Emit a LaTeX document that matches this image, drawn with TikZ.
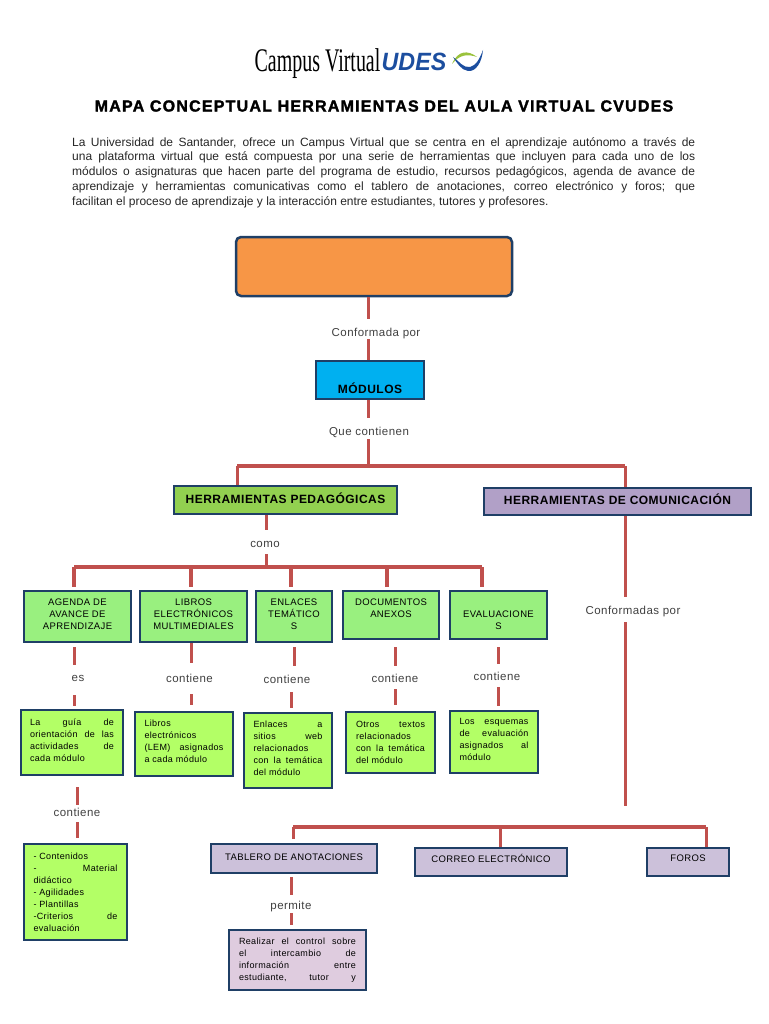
\documentclass[tikz,border=0pt]{standalone}
\usepackage{fontspec}
\setmainfont{Liberation Sans}
\newfontfamily\spacedfont[LetterSpace=4]{Liberation Sans}
\newfontfamily\logofont{Liberation Serif}
\definecolor{linkred}{HTML}{C0504D}
\definecolor{boxblue}{HTML}{1F3F66}
\definecolor{toolgreen}{HTML}{99F07F}
\definecolor{notegreen}{HTML}{B3FF66}
\definecolor{lilac}{HTML}{CCC1DA}
\definecolor{controlpink}{HTML}{DFCCDF}
\definecolor{aulaorange}{HTML}{F79646}
\definecolor{modulecyan}{HTML}{00B0F0}
\definecolor{pedagreen}{HTML}{92D050}
\definecolor{compurple}{HTML}{B1A0C7}
\definecolor{udesblue}{HTML}{1C4E9F}
\definecolor{swooshgreen}{HTML}{9AC23C}
\newcommand{\lift}[1][-7pt]{\\[#1]\mbox{}}
\tikzset{
  link/.style={draw=linkred, line width=3pt},
  bus/.style={draw=linkred, line width=3.5pt},
  verb/.style={font=\spacedfont\fontsize{11.5}{14}\selectfont, text=black!75, inner sep=0pt, minimum height=20pt},
  frame/.style={draw=boxblue, line width=2.5pt, inner sep=0pt},
  toolbox/.style={frame, fill=toolgreen, align=center, font=\spacedfont\fontsize{9.5}{12}\selectfont},
  notebox/.style={frame, fill=notegreen, align=justify, font=\spacedfont\fontsize{9}{12}\selectfont},
  lilacbox/.style={frame, fill=lilac, align=center, font=\spacedfont\fontsize{9.5}{12}\selectfont},
  headbox/.style={frame, font=\spacedfont\bfseries\fontsize{12}{18}\selectfont, align=center},
}
\begin{document}
\begin{tikzpicture}[x=1pt, y=-1pt]
  \useasboundingbox (0,0) rectangle (768,1024);

  % logo
  \node[inner sep=0pt] (logoname) at (317.5,64) {\logofont\fontsize{33}{33}\selectfont\scalebox{0.605}[1]{Campus Virtual}};
  \node[inner sep=0pt, text=udesblue] (logoudes) at (414,62) {\bfseries\itshape\fontsize{25}{25}\selectfont\scalebox{0.93}[1]{UDES}};
  \fill[swooshgreen] (452,64) .. controls (458,50) and (468,50) .. (477,57) .. controls (468,54) and (460,54) .. (452,64);
  \fill[udesblue] (453,57) .. controls (460,62) and (463,68) .. (470,67) .. controls (476,66) and (480,58) .. (483,50) .. controls (482,62) and (476,72) .. (468,71) .. controls (461,70) and (457,63) .. (453,57);

  % title and text
  \node[inner sep=0pt] (title) at (384,106) {\bfseries\fontsize{16}{18}\selectfont\addfontfeature{LetterSpace=7.6,FakeBold=1.8}MAPA CONCEPTUAL HERRAMIENTAS DEL AULA VIRTUAL CVUDES};
  \node[inner sep=0pt, text width=623pt, align=justify, anchor=north west, font=\fontsize{12}{14.8}\selectfont, text=black!85] (intro) at (72,137) {La Universidad de Santander, ofrece un Campus Virtual que se centra en el aprendizaje autónomo a través de\linebreak
    una plataforma virtual que está compuesta por una serie de herramientas que incluyen para cada uno de los\linebreak
    módulos o asignaturas que hacen parte del programa de estudio, recursos pedagógicos, agenda de avance de\linebreak
    aprendizaje y herramientas comunicativas como el tablero de anotaciones, correo electrónico y foros; que\linebreak
    facilitan el proceso de aprendizaje y la interacción entre estudiantes, tutores y profesores.};

  % upper boxes
  \node[frame, fill=aulaorange, rounded corners=5pt, minimum width=276pt, minimum height=59pt] (aula) at (374,266.5) {};
  \node[headbox, fill=modulecyan, minimum width=108pt, minimum height=38pt] (modulos) at (370,380) {\mbox{}\\[10pt]MÓDULOS};
  \node[headbox, fill=pedagreen, minimum width=223pt, minimum height=28pt] (pedagogicas) at (285.5,500) {HERRAMIENTAS PEDAGÓGICAS\lift[-14pt]};
  \node[headbox, fill=compurple, minimum width=267pt, minimum height=27pt] (comunicacion) at (617.5,501.5) {HERRAMIENTAS DE COMUNICACIÓN\lift[-13pt]};
  \node[verb] (conformada) at (376,334) {Conformada por};
  \node[verb] (contienen) at (369,432) {Que contienen};
  \node[verb] (como) at (265,544) {como};
  \node[verb] (conformadas) at (633,612) {Conformadas por};

  % tool boxes
  \node[toolbox, minimum width=107pt, minimum height=51pt] (agenda) at (77.5,616.5) {AGENDA DE\\AVANCE DE\\APRENDIZAJE\lift};
  \node[toolbox, minimum width=107pt, minimum height=51pt] (libros) at (193.5,616.5) {LIBROS\\ELECTRÓNICOS\\MULTIMEDIALES\lift};
  \node[toolbox, minimum width=76pt, minimum height=51pt] (enlaces) at (294,616.5) {ENLACES\\TEMÁTICO\\S\lift};
  \node[toolbox, minimum width=96pt, minimum height=48pt] (documentos) at (391,615) {DOCUMENTOS\\ANEXOS\\[2pt]\mbox{}};
  \node[toolbox, minimum width=97pt, minimum height=48pt] (evaluaciones) at (498.5,615) {\mbox{}\\[6pt]EVALUACIONE\\S};

  \node[verb] (es) at (78,678) {es};
  \node[verb] (librosverb) at (189.5,678) {contiene};
  \node[verb] (enlacesverb) at (287,679) {contiene};
  \node[verb] (docsverb) at (395,678) {contiene};
  \node[verb] (evalverb) at (497,676) {contiene};
  \node[verb] (guiaverb) at (77,812) {contiene};

  % note boxes
  \node[notebox, minimum width=102pt, minimum height=65pt, text width=84pt] (guia) at (72,742.5) {La guía de\linebreak orientación de las\linebreak actividades de\linebreak cada módulo\lift};
  \node[notebox, minimum width=98pt, minimum height=64pt, text width=79pt] (libronote) at (184,744) {Libros\\electrónicos\\(LEM) asignados\linebreak a cada módulo\lift};
  \node[notebox, minimum width=88pt, minimum height=75pt, text width=69pt] (enlacenote) at (288,750.5) {Enlaces a\linebreak sitios web\linebreak relacionados\\con la temática\linebreak del módulo\lift};
  \node[notebox, minimum width=89pt, minimum height=61pt, text width=69pt] (docnote) at (390.5,742.5) {Otros textos\linebreak relacionados\\con la temática\linebreak del módulo};
  \node[notebox, minimum width=88pt, minimum height=62pt, text width=69pt] (evalnote) at (494,742) {Los esquemas\linebreak de evaluación\linebreak asignados al\linebreak módulo\lift};
  \node[notebox, minimum width=103pt, minimum height=96pt, text width=84pt] (contenidos) at (75.5,892) {- Contenidos\\- Material\linebreak didáctico\\- Agilidades\\- Plantillas\\-Criterios de\linebreak evaluación};

  % lower boxes
  \node[lilacbox, minimum width=166pt, minimum height=29pt] (tablero) at (294,858.5) {TABLERO DE ANOTACIONES\lift[-9pt]};
  \node[lilacbox, minimum width=152pt, minimum height=28pt] (correo) at (491,862) {CORREO ELECTRÓNICO\lift[-5pt]};
  \node[lilacbox, minimum width=82pt, minimum height=28pt] (foros) at (688,862) {FOROS\lift[-5pt]};
  \node[notebox, fill=controlpink, minimum width=137pt, minimum height=60pt, text width=117pt] (control) at (297.5,960) {Realizar el control sobre\linebreak el intercambio de\linebreak información entre\linebreak estudiante,\hfill tutor\hfill y};
  \node[verb] (permite) at (291,907) {permite};

  % bus lines
  \coordinate (mainleft) at (237,466);
  \coordinate (mainright) at (625,466);
  \coordinate (maindrop) at (368,466);
  \coordinate (toolsleft) at (74,567);
  \coordinate (toolslibros) at (191,567);
  \coordinate (toolsenlaces) at (291,567);
  \coordinate (toolsdocs) at (387,567);
  \coordinate (toolsright) at (482,567);
  \coordinate (toolsdrop) at (266,567);
  \coordinate (lowleft) at (293,827);
  \coordinate (lowmid) at (500,827);
  \coordinate (lowright) at (706,827);
  \coordinate (lowdrop) at (625,806);

  \draw[bus] (mainleft) -- (mainright);
  \draw[link] (mainleft) -- (mainleft |- pedagogicas.north);
  \draw[link] (mainright) -- (mainright |- comunicacion.north);
  \draw[link, shorten >=5pt] (aula.south -| maindrop) -- (conformada.north -| maindrop);
  \draw[link, shorten <=-5pt] (conformada.south -| maindrop) -- (modulos.north -| maindrop);
  \draw[link, shorten >=4pt] (modulos.south -| maindrop) -- (contienen.north -| maindrop);
  \draw[link, shorten <=-3pt] (contienen.south -| maindrop) -- (maindrop);

  \draw[bus] (toolsleft) -- (toolsright);
  \draw[link, shorten >=4pt] (pedagogicas.south -| toolsdrop) -- (como.north -| toolsdrop);
  \draw[link] (como.south -| toolsdrop) -- (toolsdrop);
  \foreach \drop/\target in {toolsleft/agenda, toolslibros/libros, toolsenlaces/enlaces, toolsdocs/documentos, toolsright/evaluaciones}
    \draw[link, line width=3.5pt, shorten >=3pt] (\drop) -- (\drop |- \target.north);

  \draw[link, shorten <=4pt, shorten >=3pt] (agenda.south -| toolsleft) -- (es.north -| toolsleft);
  \draw[link, shorten <=7pt, shorten >=3pt] (es.south -| toolsleft) -- (guia.north -| toolsleft);
  \draw[link, shorten >=5pt] (libros.south -| toolslibros) -- (librosverb.north -| toolslibros);
  \draw[link, shorten <=6pt, shorten >=6pt] (librosverb.south -| toolslibros) -- (libronote.north -| toolslibros);
  \draw[link, shorten <=4pt, shorten >=3pt] (enlaces.south) -- (enlacesverb.north -| enlaces.south);
  \draw[link, shorten <=3pt, shorten >=4pt] (enlacesverb.south -| toolsenlaces) -- (enlacenote.north -| toolsenlaces);
  \draw[link, shorten <=7pt, shorten >=2pt] (documentos.south -| docsverb) -- (docsverb.north);
  \draw[link, shorten <=1pt, shorten >=6pt] (docsverb.south) -- (docnote.north -| docsverb);
  \draw[link, shorten <=7pt, shorten >=2pt] (evaluaciones.south) -- (evalverb.north -| evaluaciones.south);
  \draw[link, shorten <=1pt, shorten >=4pt] (evalverb.south -| evaluaciones.south) -- (evalnote.north -| evaluaciones.south);
  \draw[link, shorten <=11pt, shorten >=-3pt] (guia.south -| guiaverb) -- (guiaverb.north);
  \draw[link, shorten >=5pt] (guiaverb.south) -- (contenidos.north -| guiaverb);

  \draw[link, shorten >=5pt] (comunicacion.south -| lowdrop) -- (conformadas.north -| lowdrop);
  \draw[link] (conformadas.south -| lowdrop) -- (lowdrop);
  \draw[bus] (lowleft) -- (lowright);
  \draw[link, shorten >=4pt] (lowleft) -- (tablero.north -| lowleft);
  \draw[link] (lowmid) -- (correo.north -| lowmid);
  \draw[link] (lowright) -- (foros.north -| lowright);
  \draw[link, shorten <=3pt, shorten >=2pt] (tablero.south -| permite) -- (permite.north);
  \draw[link, shorten <=-4pt, shorten >=4pt] (permite.south) -- (control.north -| permite);
\end{tikzpicture}
\end{document}
